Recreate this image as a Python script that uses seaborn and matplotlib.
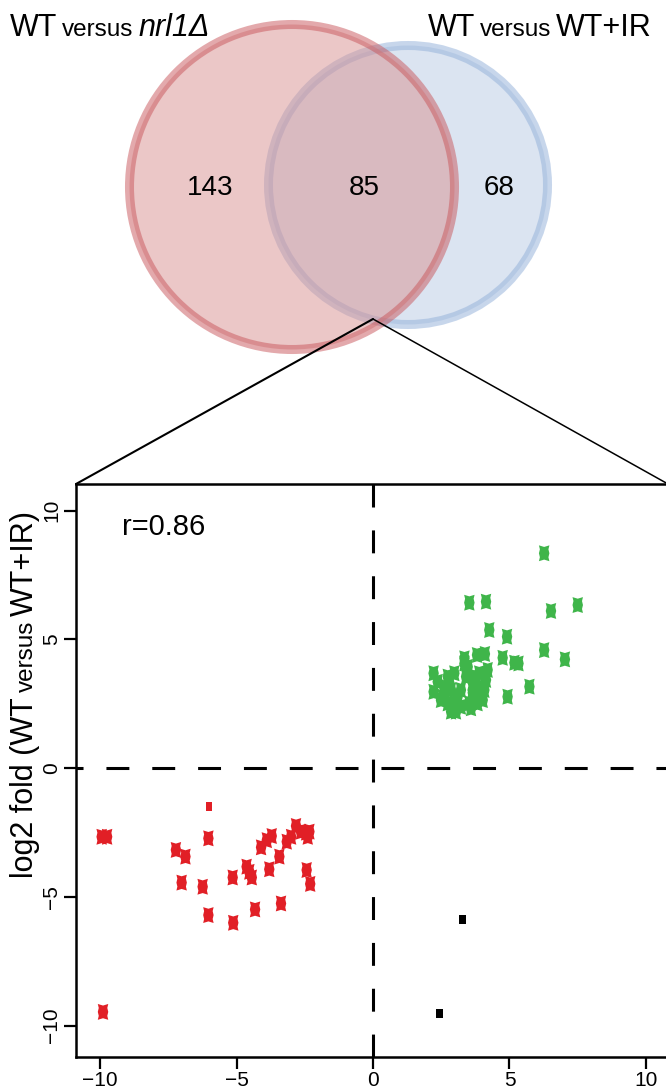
import numpy as np
import pandas as pd
import matplotlib
matplotlib.use("Agg")
import matplotlib.pyplot as plt
import seaborn as sns
from matplotlib.path import Path
from matplotlib.patches import Circle
from matplotlib.transforms import IdentityTransform

# ---------------- data ----------------
venn_counts = [143, 85, 68]          # only nrl1, overlap, only IR
r_value = 0.86

green_x = [6.27, 3.53, 4.14, 6.52, 7.50, 4.26, 4.91, 6.27, 7.03, 4.75, 5.18, 5.33, 5.73, 4.93, 3.81, 4.10, 3.35,
           2.22, 2.22, 2.37, 2.55, 2.74, 2.74, 2.86, 2.98, 2.98, 3.10, 3.22, 3.35, 3.41, 3.22, 3.53, 3.59,
           3.65, 3.71, 3.77, 3.83, 3.89, 3.96, 4.02, 4.08, 4.14, 4.20, 2.80, 2.61, 3.47, 3.04, 2.49, 2.86,
           3.83, 3.65]
green_y = [8.34, 6.42, 6.46, 6.10, 6.33, 5.36, 5.10, 4.58, 4.22, 4.28, 4.09, 4.06, 3.16, 2.77, 4.39, 4.43, 4.26,
           3.68, 2.96, 3.35, 2.77, 3.55, 2.51, 3.03, 3.68, 2.51, 2.77, 2.38, 4.06, 3.55, 3.03, 2.51, 2.32,
           3.03, 3.55, 3.29, 2.77, 3.68, 3.16, 2.64, 3.03, 3.42, 3.81, 3.29, 3.16, 3.93, 2.19, 2.64, 2.19,
           2.51, 2.64]

red_x = [-9.94, -9.74, -6.03, -7.22, -6.87, -7.01, -6.24, -6.03, -5.14, -5.12, -4.63, -4.53, -4.44, -4.32,
         -4.10, -3.89, -3.71, -3.80, -3.43, -3.37, -3.16, -3.00, -2.82, -2.64, -2.45, -2.33, -2.39, -2.43,
         -2.30, -9.89]
red_y = [-2.67, -2.67, -2.73, -3.18, -3.44, -4.45, -4.61, -5.71, -4.25, -6.01, -3.83, -4.03, -4.25, -5.49,
         -3.08, -2.80, -2.64, -3.93, -3.44, -5.26, -2.86, -2.67, -2.25, -2.47, -2.51, -2.47, -2.67, -3.96,
         -4.50, -9.47]

red_sq_x = [-6.00]
red_sq_y = [-1.50]

black_x = [3.28, 2.43]
black_y = [-5.90, -9.55]

xticks = [-10, -5, 0, 5, 10]
yticks = [-10, -5, 0, 5, 10]

# ---------------- style ----------------
sns.set_theme(style="white")
plt.rcParams["font.family"] = ["Liberation Sans", "DejaVu Sans"]
plt.rcParams["axes.unicode_minus"] = True
plt.rcParams["text.color"] = "black"
plt.rcParams["axes.labelcolor"] = "black"
plt.rcParams["xtick.color"] = "black"
plt.rcParams["ytick.color"] = "black"

W, H = 666, 1092
fig = plt.figure(figsize=(W / 100, H / 100), dpi=100)

# ---------------- Venn (overlay in pixel space) ----------------
ov = fig.add_axes([0, 0, 1, 1])
ov.set_xlim(0, W)
ov.set_ylim(H, 0)
ov.axis("off")

blue_c = Circle((408, 185), 139.5, facecolor=(185/255, 203/255, 229/255, 0.5),
                edgecolor=(145/255, 175/255, 217/255, 0.5), lw=6.5, zorder=1)
red_c = Circle((292, 187), 162.5, facecolor=(217/255, 145/255, 145/255, 0.5),
               edgecolor=(200/255, 85/255, 90/255, 0.5), lw=6.5, zorder=2)
ov.add_patch(blue_c)
ov.add_patch(red_c)

venn_pos = [(210, 188), (364, 188), (499, 188)]
for (px, py), c in zip(venn_pos, venn_counts):
    ov.text(px, py, str(c), fontsize=20, ha="center", va="center", color="black", zorder=5)

# zoom lines
ov.plot([373, 76], [319, 484], color="black", lw=1.5, zorder=3)
ov.plot([373, 668], [319, 484], color="black", lw=1.1, zorder=3)

# ---------------- scatter axes ----------------
ax_bottom = 1056.7
ax_top = 484
ax = fig.add_axes([76 / W, (H - ax_bottom) / H, (670 - 76) / W, (ax_bottom - ax_top) / H])
ax.set_facecolor("white")

star = Path([(-0.33, 0.5), (0, 0.4), (0.33, 0.5), (0.27, 0.25), (0.33, 0.0), (0.27, -0.25),
             (0.33, -0.5), (0, -0.4), (-0.33, -0.5), (-0.27, -0.25), (-0.33, 0.0), (-0.27, 0.25),
             (-0.33, 0.5)], closed=True)
rect = Path([(-0.39, 0.5), (0.39, 0.5), (0.39, -0.5), (-0.39, -0.5), (-0.39, 0.5)], closed=True)

ax.axvline(0, color="black", lw=2.2, ls=(0, (7.5, 7.5)), zorder=1)
ax.axhline(0, color="black", lw=2.2, ls=(5.2, (7.5, 7.5)), zorder=1)

sns.scatterplot(x=green_x, y=green_y, marker=star, s=130, color="#3fb54a", linewidth=0,
                edgecolor="none", ax=ax, zorder=3)
sns.scatterplot(x=red_x, y=red_y, marker=star, s=130, color="#e11f26", linewidth=0,
                edgecolor="none", ax=ax, zorder=3)
sns.scatterplot(x=red_sq_x, y=red_sq_y, marker=rect, s=36, color="#e11f26", linewidth=0,
                edgecolor="none", ax=ax, zorder=3)
sns.scatterplot(x=black_x, y=black_y, marker=rect, s=42, color="black", linewidth=0,
                edgecolor="none", ax=ax, zorder=3)

ax.set_xlim(-10.88, 10.88)
ax.set_ylim(-11.21, 11.03)
ax.set_xticks(xticks)
ax.set_yticks(yticks)
ax.set_xticklabels([str(t).replace("-", "\u2212") for t in xticks])
ax.set_yticklabels([str(t).replace("-", "\u2212") for t in yticks], rotation=90, va="center")
ax.tick_params(axis="both", which="both", bottom=True, left=True, direction="out",
               length=8.5, width=1.6, labelsize=15, colors="black", pad=2)
for sp in ax.spines.values():
    sp.set_visible(True)
    sp.set_color("black")
    sp.set_linewidth(1.8)
ax.set_xlabel("")
ax.set_ylabel("")

ax.text(-9.19, 9.36, f"r={r_value}", fontsize=21, ha="left", va="center", color="black")

# ---------------- multi-style labels ----------------
fig.canvas.draw()
renderer = fig.canvas.get_renderer()


def place_parts(parts, x0, y0, rotation=0, gap=5):
    texts = []
    pos = x0 if rotation == 0 else y0
    for s, size, style in parts:
        if rotation == 0:
            t = fig.text(pos, y0, s, transform=IdentityTransform(), fontsize=size, style=style,
                         ha="left", va="baseline", color="black")
        else:
            t = fig.text(x0, pos, s, transform=IdentityTransform(), fontsize=size, style=style,
                         ha="left", va="baseline", rotation=90, rotation_mode="anchor", color="black")
        bb = t.get_window_extent(renderer)
        pos = (bb.x1 if rotation == 0 else bb.y1) + gap
        texts.append(t)
    return texts, pos - gap


title_left = [("WT", 22, "normal"), ("versus", 17.5, "normal"), ("nrl1\u0394", 22, "italic")]
title_right = [("WT", 22, "normal"), ("versus", 17.5, "normal"), ("WT+IR", 22, "normal")]
ylabel_parts = [("log2 fold (WT", 22, "normal"), ("versus", 17.5, "normal"), ("WT+IR)", 22, "normal")]

place_parts(title_left, 10, H - 36)
txts, xend = place_parts(title_right, 420, H - 36)
dx = 652 - xend
for t in txts:
    px, py = t.get_position()
    t.set_position((px + dx, py))

place_parts(ylabel_parts, 33, H - 878, rotation=90)

fig.savefig("out.png", dpi=100)
